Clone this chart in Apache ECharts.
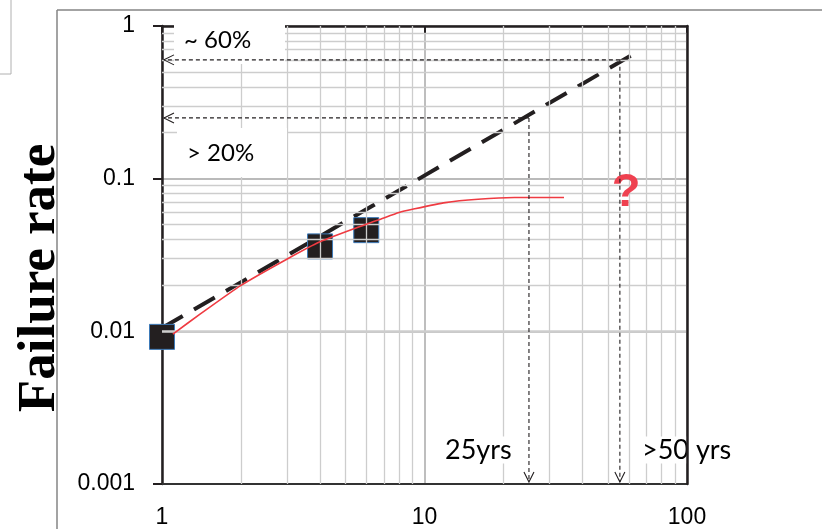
<!DOCTYPE html>
<html>
<head>
<meta charset="utf-8">
<script src="https://cdn.jsdelivr.net/npm/echarts@6/dist/echarts.min.js"></script>
<style>
html,body{margin:0;padding:0;background:#fff;}
#chart{width:822px;height:529px;}
</style>
</head>
<body>
<div id="chart"></div>
<script>
// ---- data ----
const xTickLabels = ['1', '10', '100'];
const yTickLabels = ['0.001', '0.01', '0.1', '1'];

const obsYears = [1, 4, 6];
const obsRate = [0.0092, 0.036, 0.046];

const fitYears = [1.1, 1.4, 2, 3, 4, 6, 6.8, 8, 9, 12, 16, 22, 34];
const fitRate = [0.0096, 0.0130, 0.0200, 0.0298, 0.0386, 0.0503, 0.0543, 0.0600, 0.0630, 0.0697, 0.0733, 0.0752, 0.0752];

const trendYears = [1, 65];
const trendRate = [0.0105, 0.68];

const guideYears = [25, 55.5];
const guideRate = [0.25, 0.6];

const xMinor = [2, 3, 4, 5, 6, 7, 8, 9, 20, 30, 40, 50, 60, 70, 80, 90];
const yMinor = [0.002, 0.003, 0.004, 0.005, 0.006, 0.007, 0.008, 0.009,
                0.02, 0.03, 0.04, 0.05, 0.06, 0.07, 0.08, 0.09,
                0.2, 0.3, 0.4, 0.5, 0.6, 0.7, 0.8, 0.9];

const xMin = 1, xMax = 100, yMin = 0.001, yMax = 1;

// ---- build ----
const chart = echarts.init(document.getElementById('chart'), null, {renderer: 'canvas'});

const pair = (xs, ys) => xs.map((x, i) => [x, ys[i]]);

const guideSegments = [];
guideYears.forEach((gx, i) => {
  guideSegments.push([gx, guideRate[i], xMin, guideRate[i]]);
  guideSegments.push([gx, guideRate[i], gx, yMin]);
});

const tickFont = '"Liberation Sans", Arial, sans-serif';
const annFont = 'Lato, "Open Sans", sans-serif';

const option = {
  animation: false,
  backgroundColor: '#fff',
  grid: {left: 162, right: 135, top: 26, bottom: 43, show: false},
  xAxis: [{
    type: 'log', logBase: 10, min: xMin, max: xMax, position: 'bottom',
    axisLine: {show: true, lineStyle: {color: '#333', width: 2}},
    axisTick: {show: false},
    axisLabel: {
      margin: 22, fontSize: 23, fontFamily: tickFont, color: '#000',
      formatter: v => xTickLabels[Math.round(Math.log10(v))]
    },
    splitLine: {show: true, lineStyle: {color: '#a8a8a8', width: 1.5}},
    minorTick: {show: false}
  }, {
    type: 'log', logBase: 10, min: xMin, max: xMax, position: 'top',
    axisLine: {show: true, lineStyle: {color: '#231f20', width: 2.5}},
    axisTick: {show: true, inside: true, length: 8, lineStyle: {color: '#231f20', width: 2}},
    axisLabel: {show: false},
    splitLine: {show: false}
  }],
  yAxis: [{
    type: 'log', logBase: 10, min: yMin, max: yMax, position: 'left',
    axisLine: {show: true, lineStyle: {color: '#231f20', width: 2.5}},
    axisTick: {show: true, inside: false, length: 9, lineStyle: {color: '#231f20', width: 2}},
    axisLabel: {
      margin: 27, fontSize: 23, fontFamily: tickFont, color: '#000',
      formatter: v => yTickLabels[Math.round(Math.log10(v)) + 3]
    },
    splitLine: {show: true, lineStyle: {color: '#a3a3a3', width: 1.5}}
  }, {
    type: 'log', logBase: 10, min: yMin, max: yMax, position: 'right', z: 10,
    axisLine: {show: true, lineStyle: {color: '#231f20', width: 2.5}},
    axisTick: {show: false},
    axisLabel: {show: false},
    splitLine: {show: false}
  }],
  series: [
    { // minor gridlines
      type: 'line', z: 1, silent: true, symbol: 'none',
      data: [],
      markLine: {
        silent: true, symbol: 'none', animation: false,
        label: {show: false},
        lineStyle: {color: '#cdcdcd', type: 'solid', width: 1.3},
        emphasis: {disabled: true},
        data: xMinor.map(v => ({xAxis: v})).concat(yMinor.map(v => ({yAxis: v})))
      }
    },
    { // dashed power-law trend
      type: 'line', z: 3, symbol: 'none', silent: true,
      data: pair(trendYears, trendRate),
      lineStyle: {color: '#231f20', width: 4, type: [24, 13]}
    },
    { // observations
      type: 'scatter', z: 4, symbol: 'rect', symbolSize: 25,
      data: pair(obsYears, obsRate),
      itemStyle: {color: '#231f20', borderColor: '#3d7ab8', borderWidth: 1, opacity: 1}
    },
    { // red fitted curve
      type: 'line', z: 5, symbol: 'none', smooth: 0.2, silent: true,
      data: pair(fitYears, fitRate),
      lineStyle: {color: '#ef3b42', width: 1.6}
    },
    { // guide arrows
      type: 'custom', z: 12, silent: true,
      data: guideSegments,
      encode: {x: [0, 2], y: [1, 3]},
      renderItem: (params, api) => {
        const p0 = api.coord([api.value(0), api.value(1)]);
        const p1 = api.coord([api.value(2), api.value(3)]);
        const dx = p1[0] - p0[0], dy = p1[1] - p0[1];
        const len = Math.sqrt(dx * dx + dy * dy) || 1;
        const ux = dx / len, uy = dy / len;
        const nx = -uy, ny = ux;
        const tip = [p1[0] - ux * 2, p1[1] - uy * 2];
        const a = [tip[0] - ux * 10 + nx * 5, tip[1] - uy * 10 + ny * 5];
        const b = [tip[0] - ux * 10 - nx * 5, tip[1] - uy * 10 - ny * 5];
        return {
          type: 'group',
          children: [
            {type: 'line', shape: {x1: p0[0], y1: p0[1], x2: tip[0], y2: tip[1]},
             style: {stroke: '#231f20', lineWidth: 1.1, lineDash: [4, 3]}},
            {type: 'polyline', shape: {points: [a, tip, b]},
             style: {stroke: '#231f20', lineWidth: 1.1, fill: null}}
          ]
        };
      }
    }
  ],
  graphic: [
    {type: 'line', z: 1, shape: {x1: 57, y1: 10, x2: 57, y2: 529}, style: {stroke: '#858585', lineWidth: 1.5}},
    {type: 'line', z: 1, shape: {x1: 57, y1: 10, x2: 822, y2: 10}, style: {stroke: '#858585', lineWidth: 1.5}},
    {type: 'line', z: 1, shape: {x1: 11, y1: 0, x2: 11, y2: 74}, style: {stroke: '#b0b0b0', lineWidth: 1}},
    {type: 'line', z: 1, shape: {x1: 0, y1: 74, x2: 11, y2: 74}, style: {stroke: '#b0b0b0', lineWidth: 1}},
    {type: 'text', z: 2, x: 67, y: 278, rotation: Math.PI / 2,
     style: {text: 'Failure rate', font: 'bold 53px "Liberation Serif", "Times New Roman", serif',
             fill: '#000', align: 'center', verticalAlign: 'bottom'}},
    {type: 'rect', z: 8, shape: {x: 174, y: 22, width: 111, height: 42}, style: {fill: '#fff'}},
    {type: 'text', z: 9, x: 184, y: 40,
     style: {text: '~ 60%', font: '24px ' + annFont, fill: '#000', verticalAlign: 'middle'}},
    {type: 'rect', z: 8, shape: {x: 177, y: 128, width: 110, height: 49}, style: {fill: '#fff'}},
    {type: 'text', z: 9, x: 187, y: 153,
     style: {text: '> 20%', font: '24px ' + annFont, fill: '#000', verticalAlign: 'middle'}},
    {type: 'text', z: 9, x: 444, y: 450,
     style: {text: '25yrs', font: '27px ' + annFont, fill: '#000', verticalAlign: 'middle',
             backgroundColor: '#fff', padding: [0, 1]}},
    {type: 'text', z: 9, x: 641, y: 450,
     style: {text: '>50 yrs', font: '27px ' + annFont, fill: '#000', verticalAlign: 'middle',
             backgroundColor: '#fff', padding: [0, 1]}},
    {type: 'text', z: 9, x: 626, y: 193,
     style: {text: '?', font: 'bold 47px "Liberation Sans", Arial, sans-serif', fill: '#ef4150',
             align: 'center', verticalAlign: 'middle'}}
  ]
};

chart.setOption(option);
</script>
</body>
</html>
